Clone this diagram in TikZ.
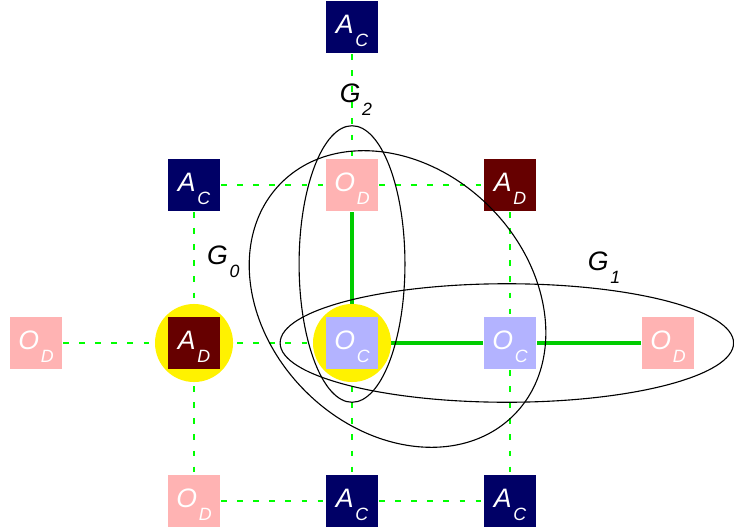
\documentclass[tikz,border=0pt]{standalone}
\usepackage{fontspec}
\setmainfont{Liberation Sans}
\usepackage{xcolor}
\usetikzlibrary{backgrounds}

\definecolor{acol}{RGB}{0,0,102}
\definecolor{dcol}{RGB}{102,0,0}
\definecolor{ocol}{RGB}{179,179,255}
\definecolor{pcol}{RGB}{255,179,179}
\definecolor{gridgreen}{RGB}{0,255,0}
\definecolor{linkgreen}{RGB}{0,204,0}

\newcommand{\lbl}[2]{\itshape #1\kern0.6pt\raisebox{-4.7pt}{\fontsize{6.4}{6.4}\selectfont #2}}

\begin{document}
\begin{tikzpicture}[
    cell/.style={minimum size=0.67cm, inner sep=0pt, text=white,
        text height=9.4pt, text depth=4.7pt, font=\fontsize{9.6}{9.6}\selectfont},
    acell/.style={cell, fill=acol},
    dcell/.style={cell, fill=dcol},
    ocell/.style={cell, fill=ocol},
    pcell/.style={cell, fill=pcol},
    glabel/.style={inner sep=0pt, font=\fontsize{9.6}{9.6}\selectfont},
    grid/.style={gridgreen, line width=0.4pt, dash pattern=on 2pt off 3.8pt},
    link/.style={linkgreen, line width=1.6pt}
]

            \useasboundingbox (-4.456,-2.380) rectangle (4.835,4.342);

            % 黄色圆
            \def\r{0.494}
            \fill[yellow] (-2,0) circle (\r);
            \fill[yellow] (0,0) circle (\r);

            % 第一行
            \node[acell] (top) at (0,4) {\lbl{A}{C}};

            % 第二行
            \node[acell] (a1) at (-2,2) {\lbl{A}{C}};
            \node[pcell] (p1) at (0,2) {\lbl{O}{D}};
            \node[dcell] (d1) at (2,2) {\lbl{A}{D}};

            % 第三行
            \node[pcell] (p0) at (-4,0) {\lbl{O}{D}};
            \node[dcell] (d0) at (-2,0) {\lbl{A}{D}};
            \node[ocell] (o0) at (0,0) {\lbl{O}{C}};
            \node[ocell] (o1) at (2,0) {\lbl{O}{C}};
            \node[pcell] (p2) at (4,0) {\lbl{O}{D}};

            % 第四行
            \node[pcell] (p3) at (-2,-2) {\lbl{O}{D}};
            \node[acell] (a2) at (0,-2) {\lbl{A}{C}};
            \node[acell] (a3) at (2,-2) {\lbl{A}{C}};

            % 连线
            \begin{scope}[on background layer]
                \draw[grid] (top) -- (p1);
                \draw[grid] (a1) -- (p1);
                \draw[grid] (p1) -- (d1);
                \draw[grid] (a1) -- (d0);
                \draw[grid] (d1) -- (o1);
                \draw[grid] (p0) -- (d0);
                \draw[grid] (d0) -- (o0);
                \draw[grid] (d0) -- (p3);
                \draw[grid] (o0) -- (a2);
                \draw[grid] (o1) -- (a3);
                \draw[grid] (p3) -- (a2);
                \draw[grid] (a2) -- (a3);

                \draw[link] (p1) -- (o0);
                \draw[link] (o0) -- (o1);
                \draw[link] (o1) -- (p2);
            \end{scope}

            % 椭圆
            \draw (0,1.0) ellipse [x radius=0.67, y radius=1.75];
            \draw (1.96,0) ellipse [x radius=2.87, y radius=0.75];
            \draw[rotate around={-45:(0.576,0.557)}]
            (0.576,0.557) ellipse [x radius=2.08, y radius=1.65];

            % 标签
            \node[glabel] (g2) at (0.05,3.08) {\lbl{G}{2}};
            \node[glabel] (g0) at (-1.63,1.03) {\lbl{G}{0}};
            \node[glabel] (g1) at (3.19,0.95) {\lbl{G}{1}};

        \end{tikzpicture}
\end{document}
